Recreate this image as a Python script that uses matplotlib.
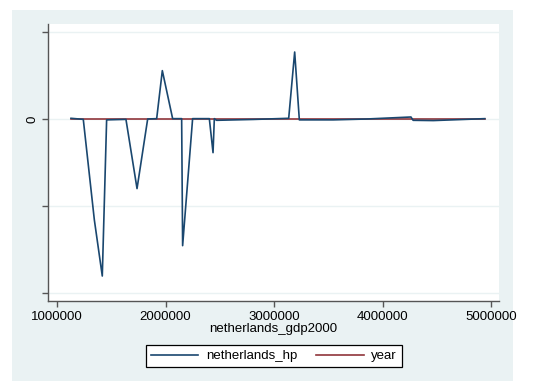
import matplotlib
matplotlib.use("Agg")
import matplotlib.pyplot as plt
from matplotlib.patches import Rectangle

# Observations sorted by GDP (constant 2000 prices)
netherlands_gdp2000 = [1129000, 1242000, 1344000, 1417000, 1457000, 1635000, 1737000,
                       1835000, 1918000, 1970000, 2065000, 2148000, 2157000, 2249000,
                       2403000, 2437000, 2449000, 2470000, 2808000, 3134000, 3189000,
                       3232000, 3545000, 3852000, 4260000, 4280000, 4466000, 4940000]
netherlands_hp = [8000, -4000, -1161000, -1805000, -10000, -4000, -800000,
                  0, 4000, 556000, 4000, 4000, -1456000, 4000,
                  4000, -387000, 4000, -15000, -5000, 8000, 770000,
                  -10000, -10000, 0, 23000, -15000, -18000, 4000]
year = [1980, 1981, 1982, 1983, 1984, 1985, 1986, 1987, 1988, 1989, 1990, 1991, 1992, 1993,
        1994, 1995, 1996, 1997, 1998, 1999, 2000, 2001, 2002, 2003, 2004, 2005, 2006, 2007]

x_ticks = [1000000, 2000000, 3000000, 4000000, 5000000]
y_ticks = [-2000000, -1000000, 0, 1000000]
y_tick_labels = ["", "", "0", ""]

plt.rcParams["font.family"] = ["Liberation Sans", "DejaVu Sans"]
FS = 9.5

W, H = 541, 381
fig = plt.figure(figsize=(W / 100, H / 100), dpi=100, facecolor="white")

# graph region background
fig.patches.append(Rectangle((12 / W, 0), (513 - 12) / W, (381 - 10) / H,
                             transform=fig.transFigure, facecolor="#eaf2f3",
                             edgecolor="none", zorder=-10))

ax = fig.add_axes([48 / W, (H - 301) / H, 451 / W, 277 / H])
ax.set_zorder(1)
ax.set_facecolor("white")

navy = "#1a476f"
maroon = "#90353b"
ax.plot(netherlands_gdp2000, netherlands_hp, color=navy, lw=1.2, label="netherlands_hp", zorder=3)
ax.plot(netherlands_gdp2000, year, color=maroon, lw=1.2, label="year", zorder=2)

ax.set_xlim(917000, 5071000)
ax.set_ylim(-2092000, 1092000)
ax.set_xticks(x_ticks)
ax.set_xticklabels([str(v) for v in x_ticks], fontsize=FS)
ax.set_yticks(y_ticks)
ax.set_yticklabels(y_tick_labels, fontsize=FS, rotation=90, va="center")
ax.grid(axis="y", color="#eaf2f3", lw=1.0, zorder=0)
ax.set_axisbelow(True)

for s in ["top", "right"]:
    ax.spines[s].set_visible(False)
for s in ["left", "bottom"]:
    ax.spines[s].set_color("#555555")
    ax.spines[s].set_linewidth(1.0)
ax.tick_params(axis="both", colors="#555555", length=4.5, width=1.0, labelcolor="black", pad=2.5)

ax.set_xlabel("netherlands_gdp2000", fontsize=FS, labelpad=0)

leg = fig.legend(loc="center", bbox_to_anchor=(274 / W, (H - 356) / H), ncol=2,
                 frameon=True, fancybox=False, edgecolor="black", fontsize=FS,
                 handlelength=3.6, columnspacing=1.4, handletextpad=0.6,
                 borderpad=0.4, framealpha=1)
leg.get_frame().set_linewidth(0.9)
leg.set_zorder(2)

fig.savefig("out.png", dpi=100, facecolor="white")
